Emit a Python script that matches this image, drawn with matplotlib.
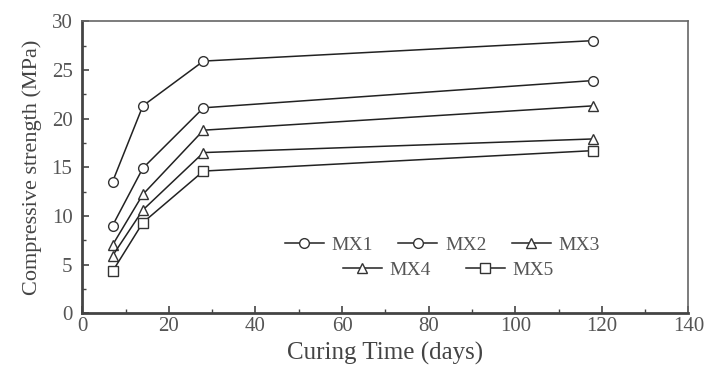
import matplotlib
matplotlib.use('Agg')
import matplotlib.pyplot as plt
from matplotlib.ticker import MultipleLocator

plt.rcParams['font.family'] = ['Liberation Serif', 'DejaVu Serif']

days = [7, 14, 28, 118]
mx1 = [13.5, 21.3, 25.9, 28.0]
mx2 = [9.0, 14.9, 21.1, 23.9]
mx3 = [7.0, 12.2, 18.8, 21.3]
mx4 = [5.9, 10.6, 16.5, 17.9]
mx5 = [4.3, 9.3, 14.6, 16.7]
labels = ["MX1", "MX2", "MX3", "MX4", "MX5"]
markers = ["o", "o", "^", "^", "s"]

fig = plt.figure(figsize=(7.09, 3.65), dpi=100)
ax = fig.add_axes([0.116, 0.142, 0.855, 0.8])

lines = []
for vals, lab, m in zip([mx1, mx2, mx3, mx4, mx5], labels, markers):
    ln, = ax.plot(days, vals, color="#222222", linewidth=1.1, marker=m,
                  markersize=7, markerfacecolor="white", markeredgecolor="#333333",
                  markeredgewidth=1.0, label=lab)
    lines.append(ln)

ax.set_xlim(0, 140)
ax.set_ylim(0, 30)
ax.xaxis.set_major_locator(MultipleLocator(20))
ax.xaxis.set_minor_locator(MultipleLocator(10))
ax.yaxis.set_major_locator(MultipleLocator(5))
ax.yaxis.set_minor_locator(MultipleLocator(2.5))
ax.tick_params(which="both", direction="in", colors="#444444", labelsize=15)
ax.tick_params(which="major", length=5, width=1.2)
ax.tick_params(which="minor", length=3, width=1.0)
ax.tick_params(axis="both", which="both", top=False, right=False)
ax.tick_params(axis="x", pad=3)
ax.tick_params(axis="y", pad=7)
for lbl in ax.get_xticklabels() + ax.get_yticklabels():
    lbl.set_color("#555555")

for side in ["left", "bottom"]:
    ax.spines[side].set_linewidth(2.0)
    ax.spines[side].set_color("#444444")
for side in ["top", "right"]:
    ax.spines[side].set_linewidth(1.2)
    ax.spines[side].set_color("#666666")

ax.set_xlabel("Curing Time (days)", fontsize=18, color="#444444", labelpad=4)
ax.set_ylabel("Compressive strength (MPa)", fontsize=16, color="#444444", labelpad=7)

leg1 = ax.legend(lines[:3], labels[:3], ncol=3, frameon=False, fontsize=14,
                 loc="center", bbox_to_anchor=(0.594, 0.233), handlelength=2.0,
                 columnspacing=1.3, handletextpad=0.4, labelcolor="#555555")
ax.add_artist(leg1)
ax.legend(lines[3:], labels[3:], ncol=2, frameon=False, fontsize=14,
          loc="center", bbox_to_anchor=(0.604, 0.147), handlelength=2.0,
          columnspacing=1.8, handletextpad=0.4, labelcolor="#555555")

fig.savefig("out.png", dpi=100)
